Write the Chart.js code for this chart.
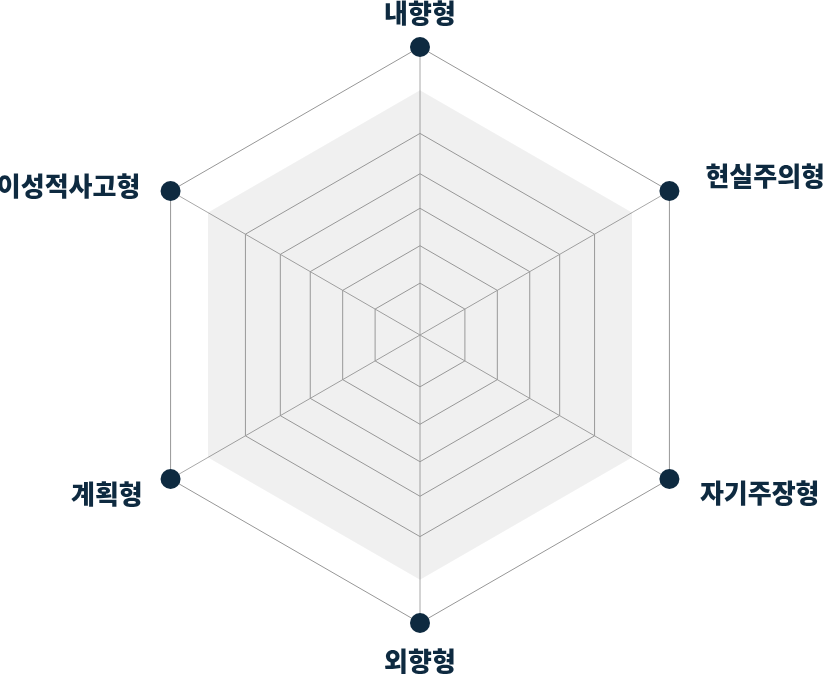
<!DOCTYPE html>
<html>
<head>
<meta charset="utf-8">
<style>
  html, body { margin: 0; padding: 0; background: #ffffff; }
  #wrap { width: 826px; height: 679px; }
</style>
<script src="https://cdn.jsdelivr.net/npm/chart.js@4/dist/chart.umd.min.js"></script>
</head>
<body>
<div id="wrap"><canvas id="c" width="826" height="679"></canvas></div>
<script>
// ---- data ----
const categories = ['내향형', '현실주의형', '자기주장형', '외향형', '계획형', '이성적사고형'];
const outerValues = [100, 100, 100, 100, 100, 100];
const bandValues  = [85, 85, 85, 85, 85, 85];
const ring70 = [70, 70, 70, 70, 70, 70];
const ring56 = [56, 56, 56, 56, 56, 56];
const ring44 = [44, 44, 44, 44, 44, 44];
const ring31 = [31, 31, 31, 31, 31, 31];
const ring18 = [18, 18, 18, 18, 18, 18];

// ---- styles ----
const NAVY = '#0e2a40';
const LINE = '#979797';
const labelStyle = [
  { align: 'center', dx: 0,     dy: -34 },
  { align: 'left',   dx: 36,    dy: -14.4 },
  { align: 'left',   dx: 30.5,  dy: 14.3 },
  { align: 'center', dx: 0,     dy: 38.3 },
  { align: 'right',  dx: -27.8, dy: 14.8 },
  { align: 'right',  dx: -30.2, dy: -5 }
];

const ringDs = (data) => ({
  data, borderColor: LINE, borderWidth: 1, fill: false,
  pointRadius: 0, pointHoverRadius: 0, clip: false
});

const labelPlugin = {
  id: 'axisLabels',
  afterDraw(chart) {
    const s = chart.scales.r;
    const ctx = chart.ctx;
    ctx.save();
    ctx.font = '900 26px "Noto Sans CJK KR", "Noto Sans", sans-serif';
    ctx.fillStyle = NAVY;
    ctx.textBaseline = 'middle';
    s._pointLabels.forEach((lab, i) => {
      const p = s.getPointPosition(i, s.drawingArea);
      const st = labelStyle[i];
      ctx.textAlign = st.align;
      ctx.fillText(lab, p.x + st.dx, p.y + st.dy);
    });
    ctx.restore();
  }
};

new Chart(document.getElementById('c'), {
  type: 'radar',
  data: {
    labels: categories,
    datasets: [
      {
        data: outerValues, borderColor: LINE, borderWidth: 1, fill: false,
        pointRadius: 10, pointHoverRadius: 10, pointBorderWidth: 0,
        pointBackgroundColor: NAVY, clip: false
      },
      ringDs(ring70),
      ringDs(ring56),
      ringDs(ring44),
      ringDs(ring31),
      ringDs(ring18),
      {
        data: bandValues, borderWidth: 0, borderColor: 'rgba(0,0,0,0)',
        backgroundColor: 'rgba(0,0,0,0.059)', fill: true,
        pointRadius: 0, pointHoverRadius: 0, clip: false
      }
    ]
  },
  options: {
    responsive: false,
    animation: false,
    devicePixelRatio: 1,
    events: [],
    layout: { padding: { left: 132, right: 118, top: 47, bottom: 56 } },
    elements: { line: { tension: 0 } },
    plugins: { legend: { display: false }, tooltip: { enabled: false } },
    scales: {
      r: {
        min: 0, max: 100,
        ticks: { display: false },
        grid: { display: false },
        angleLines: { display: true, color: '#a8a8a8', lineWidth: 1 },
        pointLabels: { display: false }
      }
    }
  },
  plugins: [labelPlugin]
});
</script>
</body>
</html>
